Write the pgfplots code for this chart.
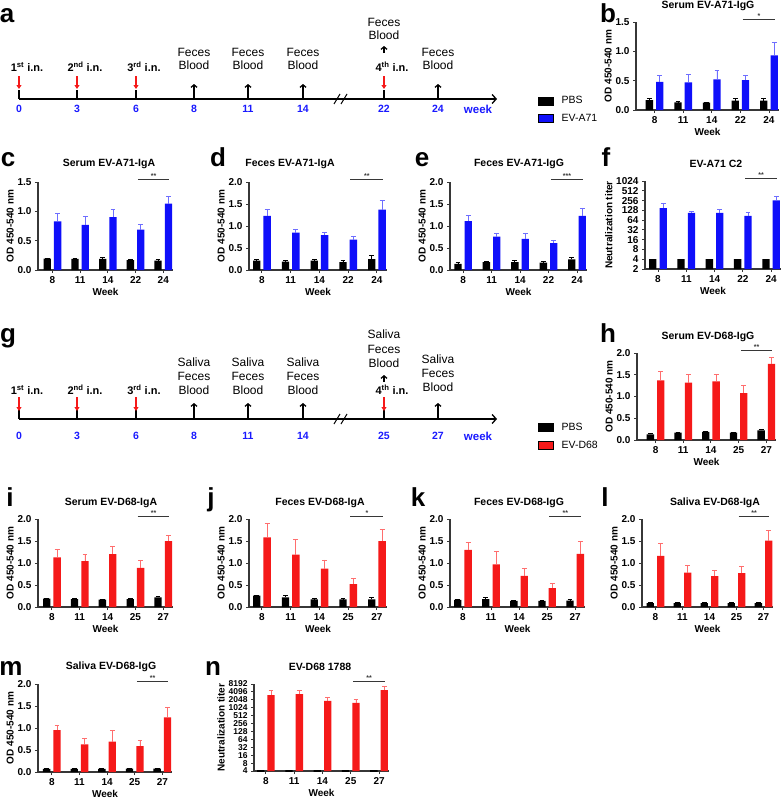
\documentclass[border=0pt]{standalone}
\usepackage{fontspec}
\setmainfont{Liberation Sans}
\usepackage{pgfplots}
\pgfplotsset{compat=1.18}
\usetikzlibrary{arrows.meta}

\newcommand{\fs}[1]{\fontsize{#1bp}{#1bp}\selectfont}
\definecolor{evblue}{RGB}{15,15,250}
\definecolor{evred}{RGB}{245,25,25}
\definecolor{errblue}{RGB}{110,110,255}
\definecolor{errred}{RGB}{255,110,110}
\definecolor{tlblue}{RGB}{25,25,255}
\definecolor{axgray}{RGB}{55,55,55}

\pgfplotsset{
  gp/.style={
    scale only axis, anchor=south west, clip=false,
    axis lines*=left,
    axis line style={line width=1.1bp, draw=axgray},
    tick style={line width=0.9bp, draw=axgray},
    tick align=outside, major tick length=3bp,
    xmax=4.35, xtick={0,...,4},
    /pgf/number format/assume math mode=true,
    ticklabel style={font=\fs{10}\bfseries},
    label style={font=\fs{10}\bfseries},
    xlabel={Week}, xlabel style={yshift=2bp},
    ylabel={OD 450-540 nm}, ylabel style={yshift=-3bp},
    error bars/y dir=plus, error bars/y explicit,
    error bars/error mark options={rotate=90, mark size=2.4bp, line width=0.8bp},
  },
  odfmt/.style={ymin=0, yticklabel style={/pgf/number format/.cd, fixed, fixed zerofill, precision=1}},
  od15/.style={odfmt, ymax=1.5, ytick={0,0.5,1,1.5}},
  od20/.style={odfmt, ymax=2, ytick={0,0.5,1,1.5,2}},
  pbs/.style={ybar, bar width=7.3bp, bar shift=0pt, xshift=-5.2bp, fill=black, draw=none, forget plot,
    error bars/error bar style={line width=0.8bp, black}},
  a71/.style={ybar, bar width=7.3bp, bar shift=0pt, xshift=5.2bp, fill=evblue, draw=none, forget plot,
    error bars/error bar style={line width=0.8bp, errblue}},
  d68/.style={ybar, bar width=7.3bp, bar shift=0pt, xshift=5.2bp, fill=evred, draw=none, forget plot,
    error bars/error bar style={line width=0.8bp, errred}},
  wA/.style={xticklabels={8,11,14,22,24}},
  wD/.style={xticklabels={8,11,14,25,27}},
  leg/.style={
    legend image code/.code={\fill[##1] (0bp,-4bp) rectangle (15bp,4bp);},
    legend cell align=left,
    legend style={draw=none, fill=none, anchor=north west, font=\fs{10.5},
      row sep=5bp, inner sep=0pt, nodes={inner sep=2bp},
      /tikz/every odd column/.append style={column sep=6bp}},
  },
}

\newcommand{\sig}[2]{%
  \draw[line width=0.8bp, axgray] ({axis cs:3.08,#1} |- {rel axis cs:0,1.025})
    -- node[midway, above, inner sep=0.5bp, font=\fs{7}\bfseries] {#2}
    ({axis cs:4.22,#1} |- {rel axis cs:0,1.025});}

\begin{document}
\begin{tikzpicture}
\useasboundingbox (0,0) rectangle (784bp,-799bp);

% ---------- b ----------
\begin{axis}[gp, od15, wA, leg, at={(636bp,-110bp)}, width=143bp, height=88bp, xmin=-0.65,
  legend style={at={(-0.685,0.18)}}]
\addplot[pbs] coordinates {(0,0.17) +- (0,0.03) (1,0.13) +- (0,0.01) (2,0.125) +- (0,0.005) (3,0.16) +- (0,0.03) (4,0.16) +- (0,0.03)};
\addplot[a71] coordinates {(0,0.48) +- (0,0.11) (1,0.47) +- (0,0.13) (2,0.52) +- (0,0.15) (3,0.51) +- (0,0.08) (4,0.93) +- (0,0.22)};
\addlegendimage{fill=black}\addlegendentry{PBS}
\addlegendimage{fill=evblue}\addlegendentry{EV-A71}
\sig{1}{*}
\end{axis}

% ---------- c ----------
\begin{axis}[gp, od15, wA, at={(38bp,-270bp)}, width=135bp, height=88bp, xmin=-0.52]
\addplot[pbs] coordinates {(0,0.195) +- (0,0.01) (1,0.19) +- (0,0.01) (2,0.19) +- (0,0.03) (3,0.17) +- (0,0.015) (4,0.16) +- (0,0.02)};
\addplot[a71] coordinates {(0,0.83) +- (0,0.13) (1,0.77) +- (0,0.15) (2,0.90) +- (0,0.13) (3,0.69) +- (0,0.08) (4,1.13) +- (0,0.13)};
\sig{1}{**}
\end{axis}

% ---------- d ----------
\begin{axis}[gp, od20, wA, at={(249bp,-270bp)}, width=138bp, height=88bp, xmin=-0.45]
\addplot[pbs] coordinates {(0,0.215) +- (0,0.035) (1,0.19) +- (0,0.02) (2,0.215) +- (0,0.025) (3,0.18) +- (0,0.03) (4,0.25) +- (0,0.08)};
\addplot[a71] coordinates {(0,1.23) +- (0,0.14) (1,0.85) +- (0,0.08) (2,0.79) +- (0,0.07) (3,0.69) +- (0,0.07) (4,1.37) +- (0,0.21)};
\sig{1}{**}
\end{axis}

% ---------- e ----------
\begin{axis}[gp, od20, wA, at={(450bp,-270bp)}, width=137bp, height=88bp, xmin=-0.46]
\addplot[pbs] coordinates {(0,0.14) +- (0,0.04) (1,0.18) +- (0,0.01) (2,0.18) +- (0,0.04) (3,0.17) +- (0,0.03) (4,0.24) +- (0,0.05)};
\addplot[a71] coordinates {(0,1.11) +- (0,0.12) (1,0.76) +- (0,0.08) (2,0.71) +- (0,0.13) (3,0.61) +- (0,0.07) (4,1.23) +- (0,0.18)};
\sig{1}{***}
\end{axis}

% ---------- f ----------
\begin{axis}[gp, wA, at={(645bp,-269bp)}, width=136bp, height=88bp, xmin=-0.46,
  ymode=log, log basis y=2, log origin=infty,
  ylabel={Neutralization titer},
  ymin=2, ymax=1024,
  ytick={2,4,8,16,32,64,128,256,512,1024},
  yticklabels={2,4,8,16,32,64,128,256,512,1024}]
\addplot[pbs, error bars/y dir=none] coordinates {(0,4) (1,4) (2,4) (3,4) (4,4)};
\addplot[a71] coordinates {(0,151) +- (0,54) (1,106) +- (0,16) (2,106) +- (0,28) (3,86) +- (0,22) (4,260) +- (0,85)};
\sig{8}{**}
\end{axis}

% ---------- h ----------
\begin{axis}[gp, od20, wD, leg, at={(637bp,-440bp)}, width=139bp, height=87bp, xmin=-0.67,
  legend style={at={(-0.712,0.218)}}]
\addplot[pbs] coordinates {(0,0.13) +- (0,0.02) (1,0.17) +- (0,0.01) (2,0.185) +- (0,0.015) (3,0.17) +- (0,0.01) (4,0.22) +- (0,0.03)};
\addplot[d68] coordinates {(0,1.37) +- (0,0.20) (1,1.32) +- (0,0.19) (2,1.35) +- (0,0.15) (3,1.08) +- (0,0.17) (4,1.75) +- (0,0.14)};
\addlegendimage{fill=black}\addlegendentry{PBS}
\addlegendimage{fill=evred}\addlegendentry{EV-D68}
\sig{1}{**}
\end{axis}

% ---------- i ----------
\begin{axis}[gp, od20, wD, at={(38bp,-607bp)}, width=135bp, height=88bp, xmin=-0.5]
\addplot[pbs] coordinates {(0,0.19) +- (0,0.01) (1,0.18) +- (0,0.01) (2,0.17) +- (0,0.01) (3,0.18) +- (0,0.02) (4,0.22) +- (0,0.03)};
\addplot[d68] coordinates {(0,1.13) +- (0,0.18) (1,1.04) +- (0,0.15) (2,1.20) +- (0,0.18) (3,0.89) +- (0,0.17) (4,1.50) +- (0,0.13)};
\sig{1}{**}
\end{axis}

% ---------- j ----------
\begin{axis}[gp, od20, wD, at={(249bp,-607bp)}, width=138bp, height=88bp, xmin=-0.45]
\addplot[pbs] coordinates {(0,0.26) +- (0,0.01) (1,0.22) +- (0,0.04) (2,0.175) +- (0,0.015) (3,0.175) +- (0,0.015) (4,0.175) +- (0,0.035)};
\addplot[d68] coordinates {(0,1.58) +- (0,0.32) (1,1.19) +- (0,0.34) (2,0.87) +- (0,0.20) (3,0.52) +- (0,0.12) (4,1.50) +- (0,0.27)};
\sig{1}{*}
\end{axis}

% ---------- k ----------
\begin{axis}[gp, od20, wD, at={(450bp,-607bp)}, width=135bp, height=88bp, xmin=-0.46]
\addplot[pbs] coordinates {(0,0.16) +- (0,0.02) (1,0.18) +- (0,0.03) (2,0.14) +- (0,0.015) (3,0.14) +- (0,0.01) (4,0.145) +- (0,0.035)};
\addplot[d68] coordinates {(0,1.30) +- (0,0.17) (1,0.97) +- (0,0.29) (2,0.71) +- (0,0.16) (3,0.43) +- (0,0.10) (4,1.21) +- (0,0.28)};
\sig{1}{**}
\end{axis}

% ---------- l ----------
\begin{axis}[gp, od20, wD, at={(642bp,-607bp)}, width=131bp, height=88bp, xmin=-0.5]
\addplot[pbs] coordinates {(0,0.09) +- (0,0.01) (1,0.09) +- (0,0.01) (2,0.09) +- (0,0.01) (3,0.09) +- (0,0.01) (4,0.09) +- (0,0.01)};
\addplot[d68] coordinates {(0,1.16) +- (0,0.28) (1,0.78) +- (0,0.16) (2,0.70) +- (0,0.14) (3,0.77) +- (0,0.16) (4,1.51) +- (0,0.23)};
\sig{1}{**}
\end{axis}

% ---------- m ----------
\begin{axis}[gp, od20, wD, at={(38bp,-772bp)}, width=134bp, height=88bp, xmin=-0.5]
\addplot[pbs] coordinates {(0,0.07) +- (0,0.01) (1,0.07) +- (0,0.01) (2,0.07) +- (0,0.01) (3,0.075) +- (0,0.01) (4,0.075) +- (0,0.01)};
\addplot[d68] coordinates {(0,0.95) +- (0,0.10) (1,0.63) +- (0,0.13) (2,0.69) +- (0,0.25) (3,0.59) +- (0,0.12) (4,1.24) +- (0,0.22)};
\sig{1}{**}
\end{axis}

% ---------- n ----------
\begin{axis}[gp, wD, at={(254bp,-771bp)}, width=135bp, height=87bp, xmin=-0.42,
  ymode=log, log basis y=2, log origin=infty,
  ylabel={Neutralization titer},
  ymin=4, ymax=8192,
  ytick={4,8,16,32,64,128,256,512,1024,2048,4096,8192},
  yticklabels={4,8,16,32,64,128,256,512,1024,2048,4096,8192},
  yticklabel style={font=\fs{8.5}\bfseries, inner ysep=0pt}]
\addplot[pbs, draw=black, line width=1.5bp, error bars/y dir=none] coordinates {(0,4) (1,4) (2,4) (3,4) (4,4)};
\addplot[d68] coordinates {(0,3100) +- (0,1450) (1,3400) +- (0,1430) (2,1885) +- (0,650) (3,1585) +- (0,605) (4,4830) +- (0,1640)};
\sig{16}{**}
\end{axis}

% ---------- titles, panel letters, timelines ----------
\begin{scope}[x=1bp, y=-1bp]
\tikzset{ttl/.style={font=\fs{10.5}\bfseries}, lett/.style={anchor=base, font=\fs{26}\bfseries}}
\node[ttl] at (708,6) {Serum EV-A71-IgG};
\node[ttl] at (109,164) {Serum EV-A71-IgA};
\node[ttl] at (290,164) {Feces EV-A71-IgA};
\node[ttl] at (519,164) {Feces EV-A71-IgG};
\node[ttl] at (716,164) {EV-A71 C2};
\node[ttl] at (708,337) {Serum EV-D68-IgG};
\node[ttl] at (111,503) {Serum EV-D68-IgA};
\node[ttl] at (320,503) {Feces EV-D68-IgA};
\node[ttl] at (519,503) {Feces EV-D68-IgG};
\node[ttl] at (715,503) {Saliva EV-D68-IgA};
\node[ttl] at (111,667) {Saliva EV-D68-IgG};
\node[ttl] at (320,667) {EV-D68 1788};

\node[lett] at (7,22) {a};
\node[lett] at (608,22) {b};
\node[lett] at (8,166) {c};
\node[lett] at (218,166) {d};
\node[lett] at (422,166) {e};
\node[lett] at (606,166) {f};
\node[lett] at (8,342) {g};
\node[lett] at (608,342) {h};
\node[lett] at (10,506) {i};
\node[lett] at (211,506) {j};
\node[lett] at (418,506) {k};
\node[lett] at (605,506) {l};
\node[lett] at (11,675) {m};
\node[lett] at (213,675) {n};

\tikzset{
  tl/.style={line width=1.3bp, -{Straight Barb[length=4bp,width=9bp]}},
  rarr/.style={evred, line width=1.1bp, -{Triangle[length=4bp,width=5bp]}},
  barr/.style={line width=1.3bp, -{Straight Barb[length=2.5bp,width=6bp]}},
  tn/.style={font=\fs{10.5}\bfseries, text=tlblue},
  inl/.style={anchor=base, font=\fs{11}\bfseries},
  smp/.style={anchor=base, font=\fs{12}},
}
% timeline a
\draw[tl] (19,99) -- (497,99);
\foreach \x/\t in {19/0,77/3,136/6,194/8,248/11,303/14,384/22,438/24}{
  \draw[line width=1.2bp] (\x,90) -- (\x,99);
  \node[tn] at (\x,109) {\t};
}
\node[font=\fs{11.5}\bfseries, text=tlblue] at (478,109.5) {week};
\draw[line width=1bp] (334,104) -- (340,94) (341,104) -- (347,94);
\foreach \x in {19,77,136,384} \draw[rarr] (\x,76) -- (\x,89);
\foreach \x in {194,248,303,438} \draw[barr] (\x,92) -- (\x,84);
\draw[barr] (384,53) -- (384,46);
\node[inl] at (27,71) {1\textsuperscript{st} i.n.};
\node[inl] at (85,71) {2\textsuperscript{nd} i.n.};
\node[inl] at (144,71) {3\textsuperscript{rd} i.n.};
\node[inl] at (392,71) {4\textsuperscript{th} i.n.};
\foreach \x in {194,248,303,438}{
  \node[smp] at (\x,56) {Feces};
  \node[smp] at (\x,69) {Blood};
}
\node[smp] at (384,26) {Feces};
\node[smp] at (384,39) {Blood};

% timeline g
\draw[tl] (19,419) -- (497,419);
\foreach \x/\t in {19/0,77/3,136/6,194/8,248/11,303/14,384/25,438/27}{
  \draw[line width=1.2bp] (\x,410) -- (\x,419);
  \node[tn] at (\x,436) {\t};
}
\node[font=\fs{11.5}\bfseries, text=tlblue] at (478,436) {week};
\draw[line width=1bp] (334,424) -- (340,414) (341,424) -- (347,414);
\foreach \x in {19,77,136,384} \draw[rarr] (\x,397) -- (\x,411);
\foreach \x in {194,248,303,438} \draw[barr] (\x,411) -- (\x,403);
\draw[barr] (384,382) -- (384,375);
\node[inl] at (27,394) {1\textsuperscript{st} i.n.};
\node[inl] at (85,394) {2\textsuperscript{nd} i.n.};
\node[inl] at (144,394) {3\textsuperscript{rd} i.n.};
\node[inl] at (392,394) {4\textsuperscript{th} i.n.};
\foreach \x in {194,248,303}{
  \node[smp] at (\x,366) {Saliva};
  \node[smp] at (\x,380) {Feces};
  \node[smp] at (\x,394) {Blood};
}
\node[smp] at (438,363) {Saliva};
\node[smp] at (438,377) {Feces};
\node[smp] at (438,391) {Blood};
\node[smp] at (384,338) {Saliva};
\node[smp] at (384,353) {Feces};
\node[smp] at (384,367) {Blood};
\end{scope}
\end{tikzpicture}
\end{document}
